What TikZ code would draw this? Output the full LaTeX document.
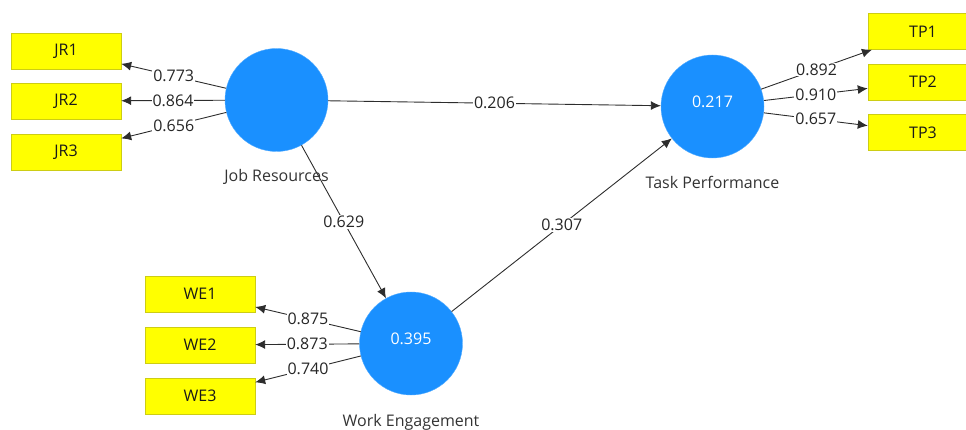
\documentclass[tikz,border=0pt]{standalone}
\usepackage{fontspec}
\setmainfont{Open Sans}
\usetikzlibrary{arrows.meta,positioning}

\definecolor{lvblue}{RGB}{26,144,255}
\definecolor{mvyellow}{RGB}{255,255,0}
\definecolor{mvborder}{RGB}{205,205,20}
\definecolor{pathgray}{RGB}{45,45,45}

\begin{document}
\begin{tikzpicture}[
    x=1pt, y=-1pt,
    font=\fontsize{16}{19}\selectfont,
    >={Latex[length=10pt,width=9pt]},
    latent/.style={circle, fill=lvblue, draw=lvblue!75!white, minimum size=103pt, inner sep=0pt, text=white, text depth=10pt},
    indicator/.style={rectangle, draw=mvborder, fill=mvyellow, minimum width=110pt, minimum height=36pt, inner sep=0pt, text=black!90},
    coef/.style={fill=white, inner sep=1pt, text=black!85},
    pathline/.style={->, draw=pathgray, line width=0.9pt},
    lvname/.style={inner sep=0pt, text height=12pt, text depth=3pt, text=black!80}
]
    \useasboundingbox (0,0) rectangle (966,430);

    % Variables latentes
    \node[latent] (jr) at (276.5,100) {};
    \node[latent] (tp) at (712.5,106.5) {0.217};
    \node[latent] (we) at (411,343.5) {0.395};

    % Indicateurs
    \node[indicator] (jr1) at (66,51) {JR1};
    \node[indicator] (jr2) at (66,101) {JR2};
    \node[indicator] (jr3) at (66,152) {JR3};
    \node[indicator] (tp1) at (923,31.5) {TP1};
    \node[indicator] (tp2) at (923,82) {TP2};
    \node[indicator] (tp3) at (923,132.5) {TP3};
    \node[indicator] (we1) at (200,294) {WE1};
    \node[indicator] (we2) at (200,345) {WE2};
    \node[indicator] (we3) at (200,396) {WE3};

    % Chemins structurels
    \draw[pathline] (jr) -- node[coef] {0.206} (tp);
    \draw[pathline] (jr) -- node[coef] {0.629} (we);
    \draw[pathline] (we) -- node[coef] {0.307} (tp);

    % Chargements
    \draw[pathline] (jr) -- node[coef] {0.773} (jr1);
    \draw[pathline] (jr) -- node[coef] {0.864} (jr2);
    \draw[pathline] (jr) -- node[coef] {0.656} (jr3);
    \draw[pathline] (tp) -- node[coef] {0.892} (tp1);
    \draw[pathline] (tp) -- node[coef] {0.910} (tp2);
    \draw[pathline] (tp) -- node[coef] {0.657} (tp3);
    \draw[pathline] (we) -- node[coef] {0.875} (we1);
    \draw[pathline] (we) -- node[coef] {0.873} (we2);
    \draw[pathline] (we) -- node[coef] {0.740} (we3);

    % Noms
    \node[lvname, below=18pt of jr] {Job Resources};
    \node[lvname, below=18pt of tp] {Task Performance};
    \node[lvname, below=19pt of we] {Work Engagement};

\end{tikzpicture}
\end{document}
